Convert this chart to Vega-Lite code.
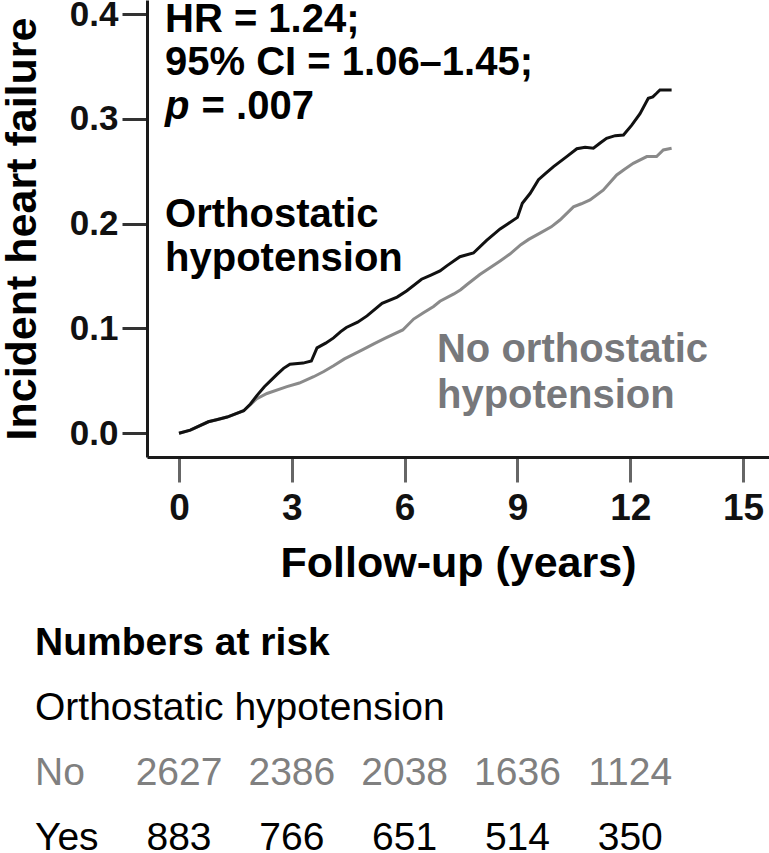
{
  "$schema": "https://vega.github.io/schema/vega-lite/v6.json",
  "width": 622,
  "height": 457,
  "autosize": {"type": "none"},
  "padding": {"left": 147, "top": 0, "right": 0, "bottom": 396},
  "background": "white",
  "config": {"view": {"stroke": null}, "font": "Liberation Sans"},
  "datasets": {
    "curves": [
      {"group": "No", "year": 0, "risk": 0},
      {"group": "No", "year": 0.3, "risk": 0.003},
      {"group": "No", "year": 0.78, "risk": 0.011},
      {"group": "No", "year": 1.0, "risk": 0.013},
      {"group": "No", "year": 1.28, "risk": 0.0155},
      {"group": "No", "year": 1.72, "risk": 0.0215},
      {"group": "No", "year": 2.07, "risk": 0.033},
      {"group": "No", "year": 2.34, "risk": 0.038},
      {"group": "No", "year": 2.87, "risk": 0.0445},
      {"group": "No", "year": 3.2, "risk": 0.048},
      {"group": "No", "year": 3.58, "risk": 0.054},
      {"group": "No", "year": 3.85, "risk": 0.059},
      {"group": "No", "year": 4.11, "risk": 0.0645},
      {"group": "No", "year": 4.4, "risk": 0.071},
      {"group": "No", "year": 4.65, "risk": 0.0755},
      {"group": "No", "year": 4.9, "risk": 0.08},
      {"group": "No", "year": 5.18, "risk": 0.0853},
      {"group": "No", "year": 5.5, "risk": 0.091},
      {"group": "No", "year": 5.95, "risk": 0.0986},
      {"group": "No", "year": 6.24, "risk": 0.109},
      {"group": "No", "year": 6.5, "risk": 0.115},
      {"group": "No", "year": 6.77, "risk": 0.121},
      {"group": "No", "year": 6.94, "risk": 0.126},
      {"group": "No", "year": 7.31, "risk": 0.133},
      {"group": "No", "year": 7.49, "risk": 0.137},
      {"group": "No", "year": 7.66, "risk": 0.142},
      {"group": "No", "year": 8.0, "risk": 0.1515},
      {"group": "No", "year": 8.27, "risk": 0.158},
      {"group": "No", "year": 8.54, "risk": 0.1645},
      {"group": "No", "year": 8.8, "risk": 0.171},
      {"group": "No", "year": 9.09, "risk": 0.18},
      {"group": "No", "year": 9.3, "risk": 0.185},
      {"group": "No", "year": 9.6, "risk": 0.191},
      {"group": "No", "year": 9.9, "risk": 0.197},
      {"group": "No", "year": 10.13, "risk": 0.2035},
      {"group": "No", "year": 10.49, "risk": 0.216},
      {"group": "No", "year": 10.7, "risk": 0.219},
      {"group": "No", "year": 10.93, "risk": 0.2226},
      {"group": "No", "year": 11.28, "risk": 0.232},
      {"group": "No", "year": 11.64, "risk": 0.2465},
      {"group": "No", "year": 11.85, "risk": 0.252},
      {"group": "No", "year": 12.08, "risk": 0.2576},
      {"group": "No", "year": 12.44, "risk": 0.264},
      {"group": "No", "year": 12.7, "risk": 0.264},
      {"group": "No", "year": 12.88, "risk": 0.2703},
      {"group": "No", "year": 13.1, "risk": 0.272},
      {"group": "Yes", "year": 0, "risk": 0},
      {"group": "Yes", "year": 0.3, "risk": 0.003},
      {"group": "Yes", "year": 0.78, "risk": 0.011},
      {"group": "Yes", "year": 1.0, "risk": 0.013},
      {"group": "Yes", "year": 1.28, "risk": 0.0155},
      {"group": "Yes", "year": 1.72, "risk": 0.0215},
      {"group": "Yes", "year": 1.9, "risk": 0.028},
      {"group": "Yes", "year": 2.07, "risk": 0.036},
      {"group": "Yes", "year": 2.27, "risk": 0.0445},
      {"group": "Yes", "year": 2.43, "risk": 0.05},
      {"group": "Yes", "year": 2.6, "risk": 0.056},
      {"group": "Yes", "year": 2.78, "risk": 0.062},
      {"group": "Yes", "year": 2.95, "risk": 0.066},
      {"group": "Yes", "year": 3.3, "risk": 0.067},
      {"group": "Yes", "year": 3.52, "risk": 0.069},
      {"group": "Yes", "year": 3.67, "risk": 0.0815},
      {"group": "Yes", "year": 3.9, "risk": 0.086},
      {"group": "Yes", "year": 4.11, "risk": 0.091},
      {"group": "Yes", "year": 4.3, "risk": 0.097},
      {"group": "Yes", "year": 4.45, "risk": 0.101},
      {"group": "Yes", "year": 4.75, "risk": 0.106},
      {"group": "Yes", "year": 5.0, "risk": 0.112},
      {"group": "Yes", "year": 5.4, "risk": 0.124},
      {"group": "Yes", "year": 5.8, "risk": 0.13},
      {"group": "Yes", "year": 6.06, "risk": 0.136},
      {"group": "Yes", "year": 6.45, "risk": 0.147},
      {"group": "Yes", "year": 6.7, "risk": 0.151},
      {"group": "Yes", "year": 6.94, "risk": 0.155},
      {"group": "Yes", "year": 7.13, "risk": 0.16},
      {"group": "Yes", "year": 7.47, "risk": 0.1685},
      {"group": "Yes", "year": 7.83, "risk": 0.172},
      {"group": "Yes", "year": 8.18, "risk": 0.184},
      {"group": "Yes", "year": 8.54, "risk": 0.195},
      {"group": "Yes", "year": 8.75, "risk": 0.2},
      {"group": "Yes", "year": 9.0, "risk": 0.206},
      {"group": "Yes", "year": 9.13, "risk": 0.2195},
      {"group": "Yes", "year": 9.34, "risk": 0.229},
      {"group": "Yes", "year": 9.56, "risk": 0.242},
      {"group": "Yes", "year": 9.75, "risk": 0.248},
      {"group": "Yes", "year": 9.96, "risk": 0.2544},
      {"group": "Yes", "year": 10.31, "risk": 0.264},
      {"group": "Yes", "year": 10.58, "risk": 0.2715},
      {"group": "Yes", "year": 10.8, "risk": 0.273},
      {"group": "Yes", "year": 11.02, "risk": 0.272},
      {"group": "Yes", "year": 11.2, "risk": 0.277},
      {"group": "Yes", "year": 11.37, "risk": 0.2815},
      {"group": "Yes", "year": 11.6, "risk": 0.284},
      {"group": "Yes", "year": 11.82, "risk": 0.2846},
      {"group": "Yes", "year": 12.04, "risk": 0.294},
      {"group": "Yes", "year": 12.26, "risk": 0.305},
      {"group": "Yes", "year": 12.48, "risk": 0.3196},
      {"group": "Yes", "year": 12.6, "risk": 0.321},
      {"group": "Yes", "year": 12.7, "risk": 0.3244},
      {"group": "Yes", "year": 12.79, "risk": 0.3276},
      {"group": "Yes", "year": 13.1, "risk": 0.3276}
    ],
    "annotBlack": [
      {"year": -0.372, "risk": 0.3825, "label": "HR = 1.24;"},
      {"year": -0.372, "risk": 0.3415, "label": "95% CI = 1.06–1.45;"},
      {"year": 0.6, "risk": 0.2999, "label": "= .007"},
      {"year": -0.372, "risk": 0.1969, "label": "Orthostatic"},
      {"year": -0.372, "risk": 0.1549, "label": "hypotension"}
    ],
    "annotItalic": [
      {"year": -0.372, "risk": 0.2999, "label": "p"}
    ],
    "annotGray": [
      {"year": 6.86, "risk": 0.068, "label": "No orthostatic"},
      {"year": 6.86, "risk": 0.0241, "label": "hypotension"}
    ],
    "tableHead": [
      {"row": "Numbers at risk", "year": -3.83, "label": "Numbers at risk"}
    ],
    "tableLabels": [
      {"row": "Orthostatic hypotension", "year": -3.83, "label": "Orthostatic hypotension", "shade": "black"},
      {"row": "No", "year": -3.83, "label": "No", "shade": "gray"},
      {"row": "Yes", "year": -3.83, "label": "Yes", "shade": "black"}
    ],
    "tableNumbers": [
      {"row": "No", "year": 0, "label": "2627", "shade": "gray"},
      {"row": "No", "year": 3, "label": "2386", "shade": "gray"},
      {"row": "No", "year": 6, "label": "2038", "shade": "gray"},
      {"row": "No", "year": 9, "label": "1636", "shade": "gray"},
      {"row": "No", "year": 12, "label": "1124", "shade": "gray"},
      {"row": "Yes", "year": 0, "label": "883", "shade": "black"},
      {"row": "Yes", "year": 3, "label": "766", "shade": "black"},
      {"row": "Yes", "year": 6, "label": "651", "shade": "black"},
      {"row": "Yes", "year": 9, "label": "514", "shade": "black"},
      {"row": "Yes", "year": 12, "label": "350", "shade": "black"}
    ]
  },
  "encoding": {
    "x": {
      "field": "year",
      "type": "quantitative",
      "scale": {"domain": [-0.851, 15.69], "nice": false, "zero": false},
      "axis": {
        "title": "Follow-up (years)",
        "values": [0, 3, 6, 9, 12, 15],
        "format": "d",
        "grid": false,
        "domainColor": "#1a1a1a",
        "domainWidth": 3,
        "tickColor": "#666666",
        "tickWidth": 3,
        "tickSize": 25,
        "labelFont": "Liberation Sans",
        "labelFontSize": 37,
        "labelFontWeight": "bold",
        "labelColor": "#111111",
        "labelPadding": 8,
        "labelFlush": false,
        "labelOverlap": false,
        "titleFont": "Liberation Sans",
        "titleFontSize": 43,
        "titleFontWeight": "bold",
        "titleColor": "#000000",
        "titlePadding": 16
      }
    },
    "y": {
      "field": "risk",
      "type": "quantitative",
      "scale": {"domain": [-0.0226, 0.4134], "nice": false, "zero": false},
      "axis": {
        "title": "Incident heart failure",
        "values": [0, 0.1, 0.2, 0.3, 0.4],
        "format": ".1f",
        "grid": false,
        "domainColor": "#1a1a1a",
        "domainWidth": 3,
        "tickColor": "#333333",
        "tickWidth": 3,
        "tickSize": 25,
        "labelFont": "Liberation Sans",
        "labelFontSize": 35,
        "labelFontWeight": "bold",
        "labelColor": "#111111",
        "labelPadding": 4,
        "labelFlush": false,
        "labelOverlap": false,
        "titleFont": "Liberation Sans",
        "titleFontSize": 43,
        "titleFontWeight": "bold",
        "titleColor": "#000000",
        "titlePadding": 25
      }
    }
  },
  "layer": [
    {
      "layer": [
        {
          "data": {"name": "curves"},
          "transform": [{"filter": "datum.group === 'No'"}],
          "mark": {"type": "line", "color": "#8a8a8a", "strokeWidth": 3, "strokeJoin": "miter"}
        },
        {
          "data": {"name": "curves"},
          "transform": [{"filter": "datum.group === 'Yes'"}],
          "mark": {"type": "line", "color": "#111111", "strokeWidth": 3, "strokeJoin": "miter"}
        },
        {
          "data": {"name": "annotBlack"},
          "mark": {"type": "text", "align": "left", "baseline": "alphabetic", "font": "Liberation Sans", "fontSize": 40, "fontWeight": "bold", "color": "#000000"},
          "encoding": {"text": {"field": "label", "type": "nominal"}}
        },
        {
          "data": {"name": "annotItalic"},
          "mark": {"type": "text", "align": "left", "baseline": "alphabetic", "font": "Liberation Sans", "fontSize": 40, "fontWeight": "bold", "fontStyle": "italic", "color": "#000000"},
          "encoding": {"text": {"field": "label", "type": "nominal"}}
        },
        {
          "data": {"name": "annotGray"},
          "mark": {"type": "text", "align": "left", "baseline": "alphabetic", "font": "Liberation Sans", "fontSize": 40, "fontWeight": "bold", "color": "#77787b"},
          "encoding": {"text": {"field": "label", "type": "nominal"}}
        }
      ]
    },
    {
      "encoding": {
        "y": {
          "field": "row",
          "type": "nominal",
          "scale": {"type": "point", "domain": ["Numbers at risk", "Orthostatic hypotension", "No", "Yes"], "range": [655, 850], "padding": 0},
          "axis": null
        },
        "color": {
          "field": "shade",
          "type": "nominal",
          "scale": {"domain": ["black", "gray"], "range": ["#000000", "#808080"]},
          "legend": null
        }
      },
      "layer": [
        {
          "data": {"name": "tableHead"},
          "mark": {"type": "text", "align": "left", "baseline": "alphabetic", "font": "Liberation Sans", "fontSize": 39, "fontWeight": "bold", "color": "#000000"},
          "encoding": {"text": {"field": "label", "type": "nominal"}, "color": {"value": "#000000"}}
        },
        {
          "data": {"name": "tableLabels"},
          "mark": {"type": "text", "align": "left", "baseline": "alphabetic", "font": "Liberation Sans", "fontSize": 39},
          "encoding": {"text": {"field": "label", "type": "nominal"}}
        },
        {
          "data": {"name": "tableNumbers"},
          "mark": {"type": "text", "align": "center", "baseline": "alphabetic", "font": "Liberation Sans", "fontSize": 39},
          "encoding": {"text": {"field": "label", "type": "nominal"}}
        }
      ]
    }
  ],
  "resolve": {"scale": {"y": "independent"}}
}
